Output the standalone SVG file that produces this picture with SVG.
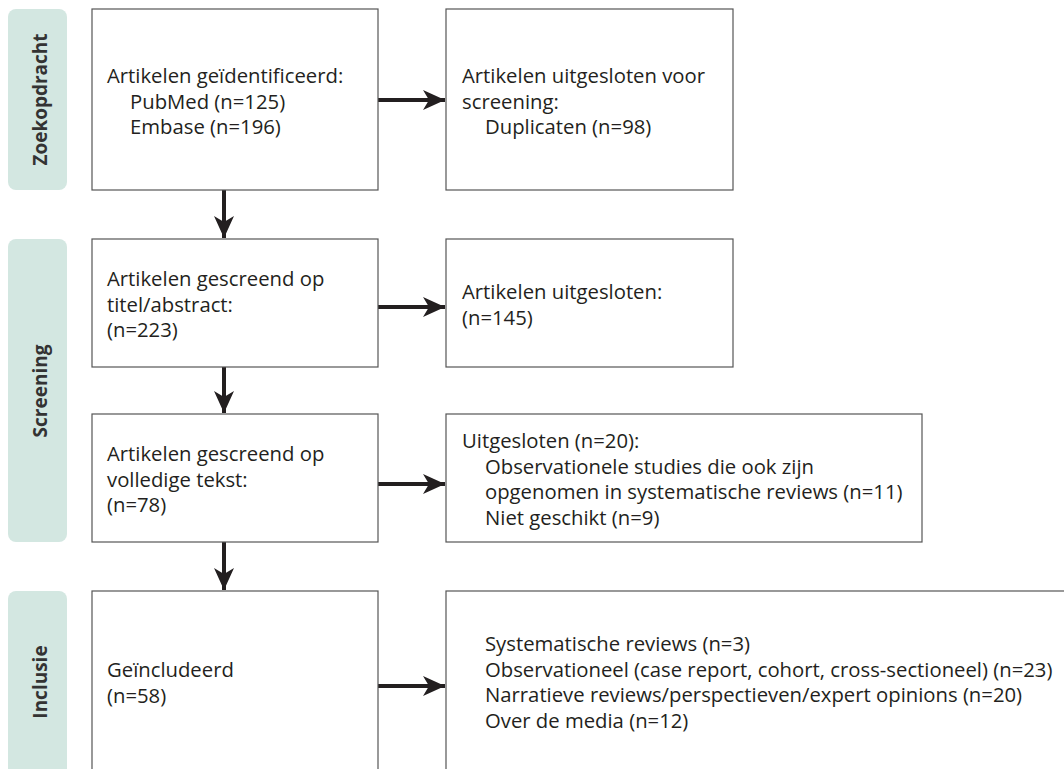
<svg xmlns="http://www.w3.org/2000/svg" width="1064" height="769" viewBox="0 0 1064 769">
<defs>
<style>
.tab{fill:#d3e7e1}
.box{fill:#fff;stroke:#555;stroke-width:1.2}
.t{font-family:"Open Sans",Lato,sans-serif;font-size:20.3px;fill:#231f20}
.lab{font-family:"Open Sans",Lato,sans-serif;font-size:19px;font-weight:bold;fill:#333;text-anchor:middle}
.arr{stroke:#231f20;stroke-width:4;fill:none}
</style>
<marker id="ah" markerUnits="userSpaceOnUse" markerWidth="24" markerHeight="20" refX="22" refY="10" orient="auto">
<path d="M0,0 L22,10 L0,20 L6,10 Z" fill="#231f20"/>
</marker>
</defs>
<rect width="1064" height="769" fill="#fff"/>
<g id="tab-zoekopdracht"><rect class="tab" x="8" y="9" width="59" height="181" rx="8"/><text class="lab" transform="translate(46.5,99.5) rotate(-90)">Zoekopdracht</text></g>
<g id="tab-screening"><rect class="tab" x="8" y="239" width="59" height="303" rx="8"/><text class="lab" transform="translate(46.5,391) rotate(-90)">Screening</text></g>
<g id="tab-inclusie"><rect class="tab" x="8" y="591" width="59" height="200" rx="8"/><text class="lab" transform="translate(46.5,682) rotate(-90)">Inclusie</text></g>

<g id="connectors">
<line class="arr" x1="378" y1="100" x2="445" y2="100" marker-end="url(#ah)"/>
<line class="arr" x1="224" y1="190" x2="224" y2="238" marker-end="url(#ah)"/>
<line class="arr" x1="378" y1="307" x2="445" y2="307" marker-end="url(#ah)"/>
<line class="arr" x1="224" y1="367" x2="224" y2="413" marker-end="url(#ah)"/>
<line class="arr" x1="378" y1="484" x2="445" y2="484" marker-end="url(#ah)"/>
<line class="arr" x1="224" y1="542" x2="224" y2="590" marker-end="url(#ah)"/>
<line class="arr" x1="378" y1="686" x2="445" y2="686" marker-end="url(#ah)"/>
</g>

<g id="n1"><rect class="box" x="92" y="9" width="286" height="181"/>
<text class="t" x="107" y="83">Artikelen geïdentificeerd:</text>
<text class="t" x="130" y="108.5">PubMed (n=125)</text>
<text class="t" x="130" y="134">Embase (n=196)</text></g>

<g id="n2"><rect class="box" x="446" y="9" width="287" height="181"/>
<text class="t" x="462" y="83">Artikelen uitgesloten voor</text>
<text class="t" x="462" y="108.5">screening:</text>
<text class="t" x="485" y="134">Duplicaten (n=98)</text></g>

<g id="n3"><rect class="box" x="92" y="239" width="286" height="128"/>
<text class="t" x="107" y="286">Artikelen gescreend op</text>
<text class="t" x="107" y="311.5">titel/abstract:</text>
<text class="t" x="107" y="337">(n=223)</text></g>

<g id="n4"><rect class="box" x="446" y="239" width="287" height="128"/>
<text class="t" x="462" y="299">Artikelen uitgesloten:</text>
<text class="t" x="462" y="324.5">(n=145)</text></g>

<g id="n5"><rect class="box" x="92" y="414" width="286" height="128"/>
<text class="t" x="107" y="461">Artikelen gescreend op</text>
<text class="t" x="107" y="486.5">volledige tekst:</text>
<text class="t" x="107" y="512">(n=78)</text></g>

<g id="n6"><rect class="box" x="446" y="414" width="476" height="128"/>
<text class="t" x="462" y="448">Uitgesloten (n=20):</text>
<text class="t" x="485" y="473.5">Observationele studies die ook zijn</text>
<text class="t" x="485" y="499">opgenomen in systematische reviews (n=11)</text>
<text class="t" x="485" y="524.5">Niet geschikt (n=9)</text></g>

<g id="n7"><rect class="box" x="92" y="591" width="286" height="200"/>
<text class="t" x="107" y="677">Geïncludeerd</text>
<text class="t" x="107" y="702.5">(n=58)</text></g>

<g id="n8"><rect class="box" x="446" y="591" width="640" height="200"/>
<text class="t" x="485" y="651">Systematische reviews (n=3)</text>
<text class="t" x="485" y="676.5">Observationeel (case report, cohort, cross-sectioneel) (n=23)</text>
<text class="t" x="485" y="702">Narratieve reviews/perspectieven/expert opinions (n=20)</text>
<text class="t" x="485" y="727.5">Over de media (n=12)</text></g>
</svg>
